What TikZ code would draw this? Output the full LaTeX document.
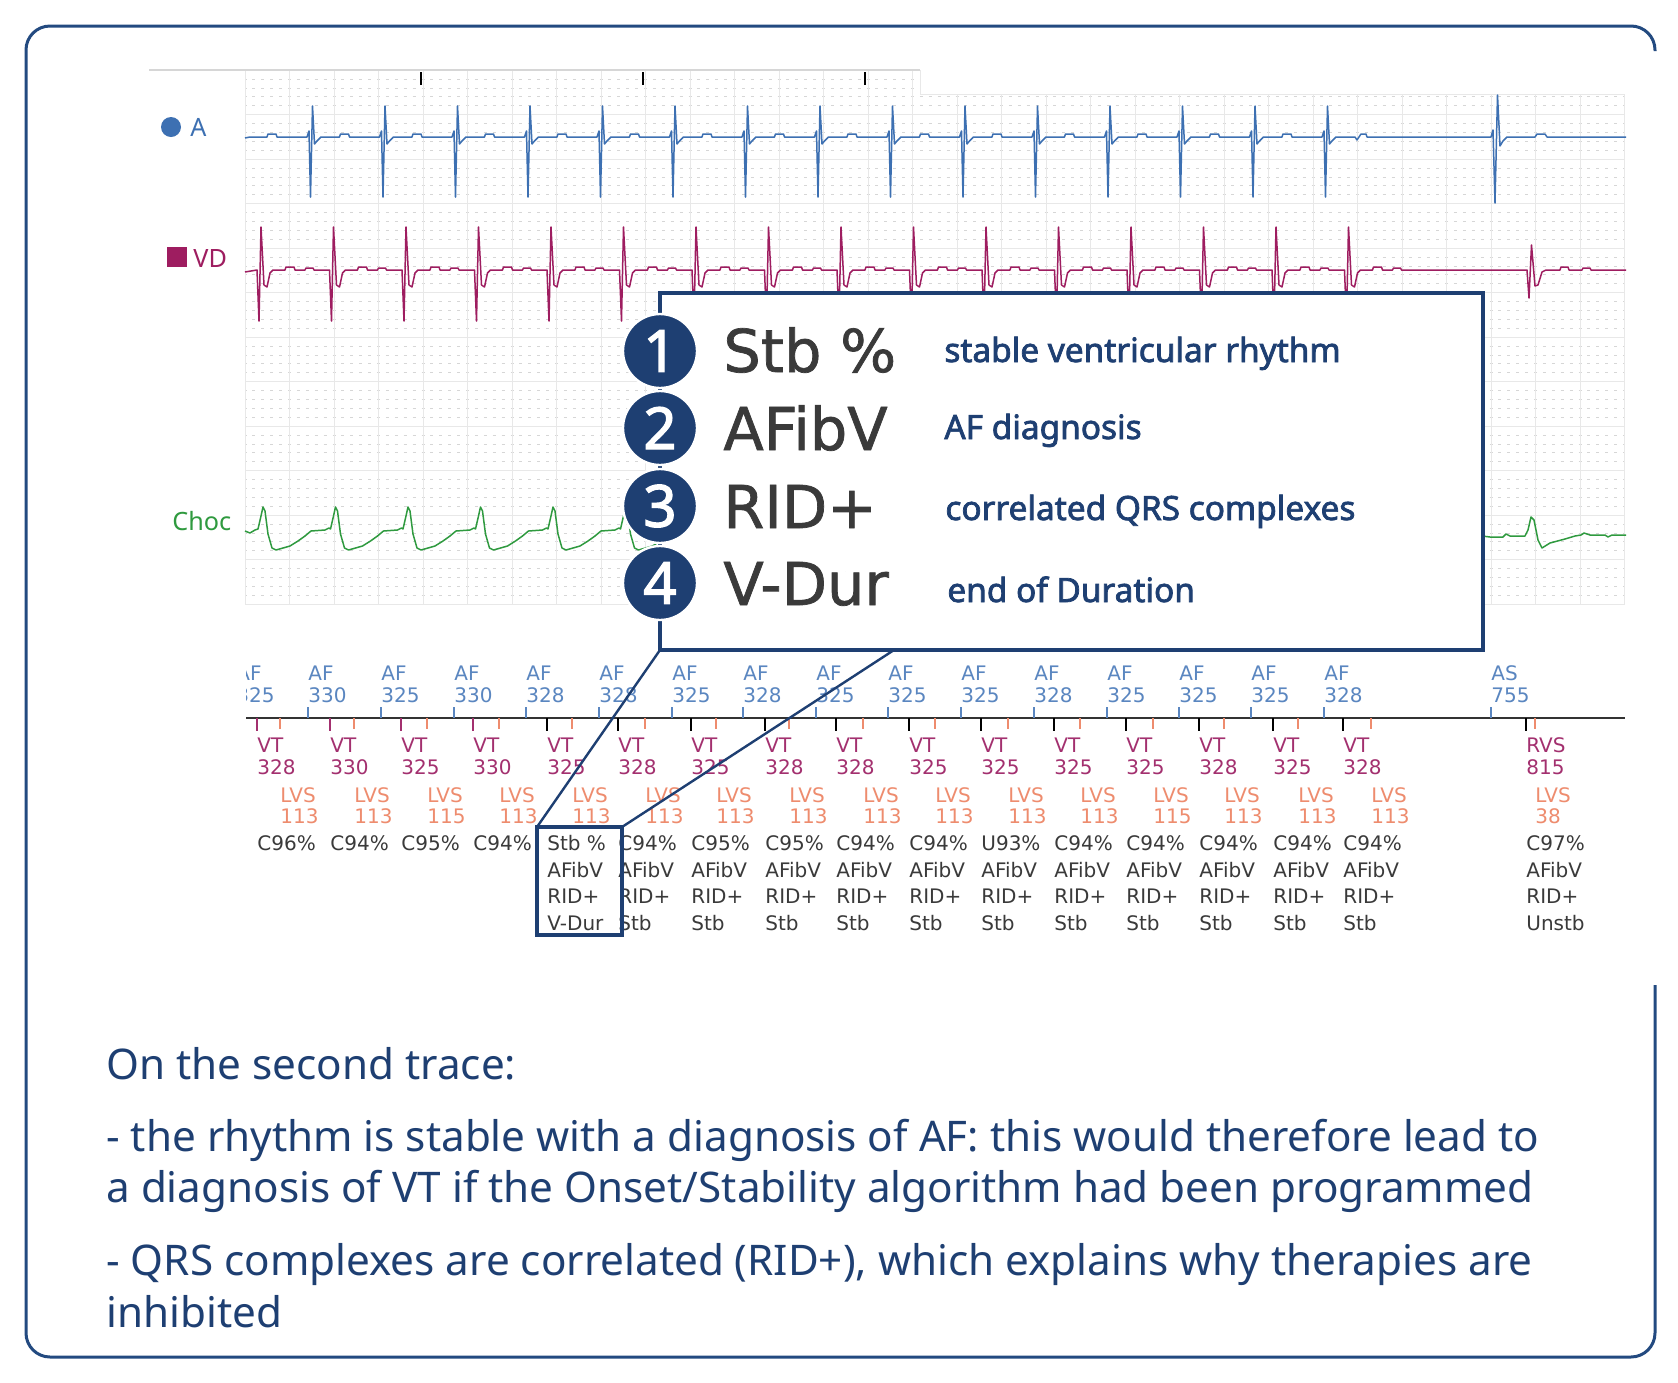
\documentclass[tikz,border=0pt]{standalone}
\usepackage{fontspec}
\setmainfont{Noto Sans}
\newfontfamily\dejavu{DejaVu Sans}
\newfontfamily\dejavub{DejaVu Sans}[FakeBold=1.2]
\newfontfamily\nsbold{Noto Sans}[FakeBold=2.2]
\definecolor{navy}{HTML}{1E3F72}
\definecolor{framec}{HTML}{234A80}
\definecolor{abl}{HTML}{3D70B2}
\definecolor{vdm}{HTML}{9E1D60}
\definecolor{chg}{HTML}{2F9A3F}
\definecolor{afc}{HTML}{5A86C0}
\definecolor{vtc}{HTML}{A3306F}
\definecolor{lvc}{HTML}{EE8C6E}
\definecolor{stc}{HTML}{3A3A3A}
\definecolor{pixc}{HTML}{3A3A3A}
\begin{document}
\begin{tikzpicture}[x=0.5pt,y=-0.5pt,
  frame/.style={draw=framec, line width=1.5pt, rounded corners=12pt},
  major/.style={draw=black!9, line width=0.5pt},
  minor/.style={draw=black!16, line width=0.3pt, dash pattern=on 1.5pt off 2.95pt, dash phase=0.75pt},
  atr/.style={draw=abl, line width=0.75pt, line join=round},
  vtr/.style={draw=vdm, line width=0.75pt, line join=round},
  ctr/.style={draw=chg, line width=0.75pt, line join=round},
  lab/.style={anchor=base west, inner sep=0pt, font=\dejavu\fontsize{10}{12}\selectfont},
  bigbox/.style={draw=navy, fill=white, line width=2.2pt, minimum width=411.5pt, minimum height=178.5pt, inner sep=0pt, outer sep=0pt},
  numc/.style={circle, fill=navy, draw=white, line width=1.2pt, minimum size=37pt, inner sep=0pt, text=white, font=\nsbold\fontsize{29}{30}\selectfont},
  pix/.style={anchor=base west, inner sep=0pt, text=pixc, font=\dejavub\fontsize{29.5}{30}\selectfont},
  desc/.style={anchor=base west, inner sep=0pt, text=navy, font=\nsbold\fontsize{16.7}{18}\selectfont},
  body/.style={anchor=base west, inner sep=0pt, text=navy, font=\fontsize{21.1}{24}\selectfont},
  hbox/.style={draw=navy, line width=2pt, minimum width=42.5pt, minimum height=54pt, inner sep=0pt, outer sep=0pt},
  conn/.style={draw=navy, line width=1.2pt},
  tlab/.style={anchor=base west, inner sep=0pt, font=\fontsize{12.6}{14}\selectfont}
]
\path[use as bounding box, fill=white] (0,0) rectangle (1678,1383);
% outer frame (gap on right side)
\draw[frame] (1655,985) -- (1655,1357) -- (26,1357) -- (26,26) -- (1655,26) -- (1655,51);

% ---------- grid ----------
\foreach \k in {1,...,59} {
  \pgfmathsetmacro\gy{70+8.9*\k}
  \pgfmathsetmacro\xr{\gy<94 ? 920 : 1624.5}
  \draw[minor] (245,\gy) -- (\xr,\gy);
}
\foreach \k in {0,...,31} {
  \pgfmathsetmacro\gx{245+44.5*\k}
  \pgfmathsetmacro\gt{\gx<915 ? 70 : 94}
  \draw[major] (\gx,\gt) -- (\gx,605);
}
\foreach \k in {1,...,12} {
  \pgfmathsetmacro\gy{70+44.5*\k}
  \draw[major] (245,\gy) -- (1624.5,\gy);
}
\draw[major] (920,94) -- (1624.5,94);
\draw[major] (920,70) -- (920,94);
\draw[draw=black!16, line width=1pt] (149,70) -- (920,70);
\foreach \tx in {421,643,865} \draw[black, line width=1pt] (\tx,72) -- (\tx,85);

% ---------- lead labels ----------
\node[circle, fill=abl, minimum size=10pt, inner sep=0pt] (adot) at (171,127) {};
\node[tlab, text=abl] (alab) at (190,136) {A};
\node[fill=vdm, minimum size=10pt, inner sep=0pt] (vsq) at (176.5,257) {};
\node[tlab, text=vdm] (vlab) at (193,267) {VD};
\node[tlab, text=chg] (clab) at (172,530) {Choc};

% ---------- traces ----------
\draw[atr] (245,138) -- (250,137)
  \foreach \n [evaluate=\n as \X using 312+72.5*\n] in {0,...,14} {
    -- (\X-45,137) -- (\X-44,134) -- (\X-36,134) -- (\X-35,137)
    -- (\X-5,137) -- (\X-3,131) -- (\X-1.5,197) -- (\X+0.5,106) -- (\X+2.5,144) -- (\X+5,141) -- (\X+9,137)
  }
  -- (1355,137) -- (1357,140) -- (1361,134) -- (1366,134) -- (1367,137)
  -- (1491,137) -- (1493,130) -- (1495,203) -- (1497.5,95) -- (1500,146) -- (1503,141) -- (1507,137)
  -- (1535,137) -- (1537,134) -- (1545,134) -- (1547,137) -- (1626,137);

\draw[vtr] (245,272)
  \foreach \n [evaluate=\n as \X using 261+72.5*\n] in {0,...,15} {
    -- (\X-4,270) -- (\X-2,321) -- (\X,227) -- (\X+3,285) -- (\X+6,287) -- (\X+9,273) -- (\X+12,270)
    -- (\X+24,270) -- (\X+25,267) -- (\X+33,267) -- (\X+34,270) -- (\X+44,270) -- (\X+45,268) -- (\X+52,268) -- (\X+53,270)
  }
  -- (1527,270) -- (1529,298) -- (1531.5,245) -- (1535,286) -- (1538,285) -- (1542,272) -- (1546,270)
  -- (1560,270) -- (1561,267) -- (1568,267) -- (1569,270) -- (1582,270) -- (1583,268) -- (1590,268) -- (1591,270) -- (1626,270);

\draw[ctr] (245,531) -- (250,533) -- (255,530)
  \foreach \n [evaluate=\n as \X using 263+72.5*\n] in {0,...,15} {
    -- (\X-5,529) -- (\X-2,516) -- (\X,507) -- (\X+2,511) -- (\X+5,534) -- (\X+9,548) -- (\X+13,550)
    -- (\X+20,548) -- (\X+27,546) -- (\X+35,541) -- (\X+42,536) -- (\X+48,531) -- (\X+62,530) -- (\X+66,528)
  }
  -- (1490,537) -- (1503,537) -- (1506,534) -- (1510,536) -- (1525,536) -- (1528,530) -- (1531,517) -- (1534,520)
  -- (1538,540) -- (1542,548) -- (1550,543) -- (1565,539) -- (1575,536) -- (1581,535) -- (1584,533) -- (1590,535)
  -- (1605,535) -- (1608,537) -- (1612,535) -- (1626,535);

% ---------- bottom annotation rows ----------
\draw[black!80, line width=1pt] (246,718) -- (1625,718);
\begin{scope}
  \clip (246,640) rectangle (1700,719);
  \foreach \x/\v [count=\i] in {236/325,308/330,381/325,454/330,526/328,599/328,672/325,743/328,816/325,888/325,961/325,1034/328,1107/325,1179/325,1251/325,1324/328} {
    \draw[afc, line width=0.6pt] (\x,707) -- (\x,718);
    \node[lab, text=afc] (afa\i) at (\x,680) {AF};
    \node[lab, text=afc] (afn\i) at (\x,702) {\v};
  }
  \draw[afc, line width=0.6pt] (1491,707) -- (1491,718);
  \node[lab, text=afc] (asa) at (1491,680) {AS};
  \node[lab, text=afc] (asn) at (1491,702) {755};
\end{scope}

\foreach \x/\v/\c [count=\i] in {257/328/vtc,330/330/vtc,401/325/vtc,473/330/vtc,547/325/black,618/328/black,691/325/black,765/328/black,836/328/black,909/325/black,981/325/black,1054/325/black,1126/325/black,1199/328/black,1273/325/black,1343/328/black} {
  \draw[\c, line width=0.6pt] (\x,718) -- (\x,731);
  \node[lab, text=vtc] (vta\i) at (\x,752) {VT};
  \node[lab, text=vtc] (vtn\i) at (\x,774) {\v};
}
\draw[black, line width=0.6pt] (1526,718) -- (1526,731);
\node[lab, text=vtc] (rvsa) at (1526,752) {RVS};
\node[lab, text=vtc] (rvsn) at (1526,774) {815};

\foreach \x/\v [count=\i] in {280/113,354/113,427/115,499/113,572/113,645/113,716/113,789/113,863/113,935/113,1008/113,1080/113,1153/115,1224/113,1298/113,1371/113,1535/38} {
  \draw[lvc, line width=0.6pt] (\x,718) -- (\x,729);
  \node[lab, text=lvc] (lva\i) at (\x,802) {LVS};
  \node[lab, text=lvc] (lvn\i) at (\x,823) {\v};
}

\foreach \x/\v [count=\i] in {257/C96,330/C94,401/C95,473/C94} {
  \node[lab, text=stc] (sx\i) at (\x,850) {\v\%};
}
\node[lab, text=stc] (h1) at (547,850) {Stb \%};
\node[lab, text=stc] (h2) at (547,877) {AFibV};
\node[lab, text=stc] (h3) at (547,903) {RID+};
\node[lab, text=stc] (h4) at (547,930) {V-Dur};
\foreach \x/\v [count=\i] in {618/C94,691/C95,765/C95,836/C94,909/C94,981/U93,1054/C94,1126/C94,1199/C94,1273/C94,1343/C94} {
  \node[lab, text=stc] (sa\i) at (\x,850) {\v\%};
  \node[lab, text=stc] (sb\i) at (\x,877) {AFibV};
  \node[lab, text=stc] (sc\i) at (\x,903) {RID+};
  \node[lab, text=stc] (sd\i) at (\x,930) {Stb};
}
\node[lab, text=stc] (ra) at (1526,850) {C97\%};
\node[lab, text=stc] (rb) at (1526,877) {AFibV};
\node[lab, text=stc] (rc) at (1526,903) {RID+};
\node[lab, text=stc] (rd) at (1526,930) {Unstb};

% ---------- callout box ----------
\node[bigbox] (big) at (1071.5,471.5) {};
\node[numc] (n1) at (660,351) {1};
\node[numc] (n2) at (660,428) {2};
\node[numc] (n3) at (660,506) {3};
\node[numc] (n4) at (660,583) {4};
\node[pix] (p1) at (723,372) {Stb \%};
\node[pix] (p2) at (723,450) {AFibV};
\node[pix] (p3) at (723,528) {RID+};
\node[pix] (p4) at (723,605) {V-Dur};
\node[desc] (d1) at (944,362) {stable ventricular rhythm};
\node[desc] (d2) at (944,439) {AF diagnosis};
\node[desc] (d3) at (945,520) {correlated QRS complexes};
\node[desc] (d4) at (947,602) {end of Duration};

% highlight box and connectors
\node[hbox] (hl) at (579.5,881) {};
\coordinate (c2) at (894,650);
\draw[conn] (hl.north west) -- (big.south west);
\draw[conn] (hl.north east) -- (c2);

% ---------- body text ----------
\node[body] (b1) at (106,1079) {On the second trace:};
\node[body] (b2) at (106,1151) {- the rhythm is stable with a diagnosis of AF: this would therefore lead to};
\node[body] (b3) at (106,1202) {a diagnosis of VT if the Onset/Stability algorithm had been programmed};
\node[body] (b4) at (106,1275) {- QRS complexes are correlated (RID+), which explains why therapies are};
\node[body] (b5) at (106,1327) {inhibited};
\end{tikzpicture}
\end{document}
